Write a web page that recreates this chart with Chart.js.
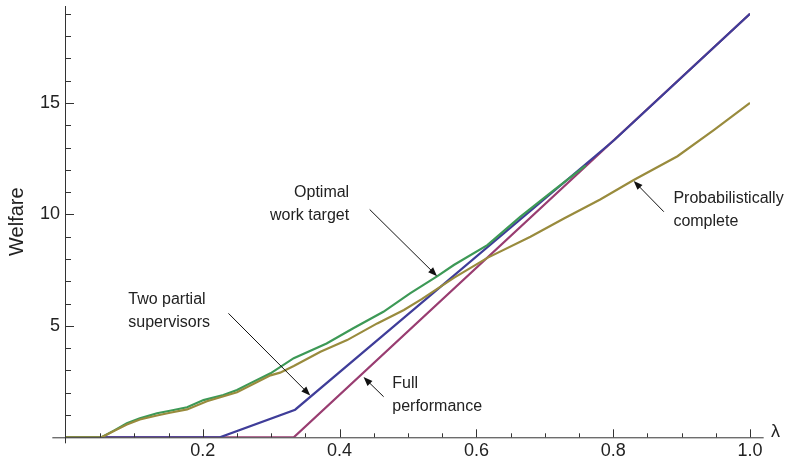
<!DOCTYPE html>
<html>
<head>
<meta charset="utf-8">
<script src="https://cdn.jsdelivr.net/npm/chart.js@4.4.0/dist/chart.umd.min.js"></script>
<style>
  body { margin: 0; background: #fff; }
  #wrap { width: 794px; height: 463px; position: relative; }
</style>
</head>
<body>
<div id="wrap"><canvas id="chartKu"></canvas></div>
<script>
// values (lambda on x, welfare on y)
const lambdaFull = [0, 0.333, 1.0]
const welfareFull = [0, 0, 19.0]

const lambdaTwo = [0, 0.225, 0.335, 0.802, 1.0]
const welfareTwo = [0, 0, 1.24, 13.35, 19.0]

// after ~0.72 this one runs under the blue line, so it stops there
const lambdaOpt = [0, 0.052, 0.07, 0.089, 0.108, 0.133, 0.152, 0.177, 0.201, 0.230, 0.250, 0.269, 0.299, 0.333, 0.381, 0.420, 0.464, 0.503, 0.543, 0.567, 0.616, 0.664, 0.712, 0.76]
const welfareOpt = [0, 0, 0.3, 0.63, 0.85, 1.08, 1.19, 1.35, 1.67, 1.90, 2.12, 2.42, 2.87, 3.55, 4.21, 4.89, 5.63, 6.46, 7.23, 7.73, 8.62, 9.89, 11.06, 12.2]

const lambdaProb = [0, 0.052, 0.07, 0.089, 0.108, 0.133, 0.152, 0.177, 0.206, 0.25, 0.299, 0.313, 0.333, 0.372, 0.411, 0.455, 0.494, 0.52, 0.567, 0.616, 0.679, 0.728, 0.781, 0.83, 0.894, 0.947, 1.0]
const welfareProb = [0, 0, 0.28, 0.57, 0.8, 0.98, 1.1, 1.25, 1.62, 2.02, 2.78, 2.9, 3.2, 3.84, 4.36, 5.11, 5.71, 6.2, 7.15, 8.05, 9.0, 9.82, 10.67, 11.54, 12.61, 13.78, 15.0]

const xTickValues = [0.2, 0.4, 0.6, 0.8, 1.0]
const yTickValues = [5, 10, 15]

// labels with arrows, in data units
const notes = [
  { lines: ['Optimal', 'work target'], at: [0.414, 10.96], align: 'right', from: [0.444, 10.22], to: [0.5425, 7.23] },
  { lines: ['Two partial', 'supervisors'], at: [0.091, 6.2], align: 'left', from: [0.2375, 5.56], to: [0.357, 1.88] },
  { lines: ['Full', 'performance'], at: [0.477, 2.43], align: 'left', from: [0.4644, 1.82], to: [0.435, 2.7] },
  { lines: ['Probabilistically', 'complete'], at: [0.888, 10.73], align: 'left', from: [0.874, 10.12], to: [0.830, 11.5] }
]

const pts = (xs, ys) => xs.map((x, i) => ({ x: x, y: ys[i] }))

const axisColor = '#333'
const textColor = '#222'

const axesPlugin = {
  id: 'axesPlugin',
  afterDraw(chart) {
    const c = chart.ctx
    const sx = chart.scales.x, sy = chart.scales.y
    const x0 = sx.getPixelForValue(0), y0 = sy.getPixelForValue(0)
    c.save()
    c.strokeStyle = axisColor
    c.lineWidth = 1
    c.beginPath()
    c.moveTo(sx.getPixelForValue(-0.02), y0 + 0.5)
    c.lineTo(sx.getPixelForValue(1.02), y0 + 0.5)
    c.moveTo(x0 - 0.5, sy.getPixelForValue(19.35))
    c.lineTo(x0 - 0.5, sy.getPixelForValue(-0.27))
    // x ticks every 0.05, long ones every 0.2
    for (let k = 1; k <= 20; k++) {
      const px = Math.round(sx.getPixelForValue(k * 0.05)) + 0.5
      const len = k % 4 === 0 ? 8 : 4
      c.moveTo(px, y0)
      c.lineTo(px, y0 - len)
    }
    // y ticks every 1, long ones every 5
    for (let v = 1; v <= 19; v++) {
      const py = Math.round(sy.getPixelForValue(v)) + 0.5
      const len = v % 5 === 0 ? 8 : 5
      c.moveTo(x0, py)
      c.lineTo(x0 + len, py)
    }
    c.stroke()

    c.fillStyle = textColor
    c.font = '18px "Liberation Sans", Arial, sans-serif'
    c.textAlign = 'left'
    c.textBaseline = 'middle'
    c.fillText('λ', sx.getPixelForValue(1.0) + 21, y0 - 5)

    // notes and arrows
    c.font = '16px "Liberation Sans", Arial, sans-serif'
    notes.forEach(n => {
      const tx = sx.getPixelForValue(n.at[0]), ty = sy.getPixelForValue(n.at[1])
      c.textAlign = n.align
      n.lines.forEach((s, i) => c.fillText(s, tx, ty + i * 23))
      const ax = sx.getPixelForValue(n.from[0]), ay = sy.getPixelForValue(n.from[1])
      const bx = sx.getPixelForValue(n.to[0]), by = sy.getPixelForValue(n.to[1])
      const ang = Math.atan2(by - ay, bx - ax)
      c.strokeStyle = '#111'
      c.lineWidth = 1
      c.beginPath()
      c.moveTo(ax, ay)
      c.lineTo(bx - 6 * Math.cos(ang), by - 6 * Math.sin(ang))
      c.stroke()
      c.fillStyle = '#111'
      c.beginPath()
      c.moveTo(bx, by)
      c.lineTo(bx - 9 * Math.cos(ang) + 3.5 * Math.sin(ang), by - 9 * Math.sin(ang) - 3.5 * Math.cos(ang))
      c.lineTo(bx - 9 * Math.cos(ang) - 3.5 * Math.sin(ang), by - 9 * Math.sin(ang) + 3.5 * Math.cos(ang))
      c.closePath()
      c.fill()
      c.fillStyle = textColor
    })
    c.restore()
  }
}

const ctx = document.getElementById('chartKu').getContext('2d')
const chart = new Chart(ctx, {
  type: 'line',
  data: {
    datasets: [
      { label: 'Probabilistically complete', data: pts(lambdaProb, welfareProb), borderColor: '#998b3d' },
      { label: 'Optimal work target', data: pts(lambdaOpt, welfareOpt), borderColor: '#3d9956' },
      { label: 'Two partial supervisors', data: pts(lambdaTwo, welfareTwo), borderColor: '#3f3d99' },
      { label: 'Full performance', data: pts(lambdaFull, welfareFull), borderColor: '#993d71' }
    ]
  },
  options: {
    responsive: true,
    maintainAspectRatio: false,
    animation: false,
    layout: { padding: { left: 0, top: 6, right: 44, bottom: 0 } },
    elements: {
      line: { borderWidth: 2.2, tension: 0, fill: false },
      point: { radius: 0, hoverRadius: 0 }
    },
    plugins: { legend: { display: false }, tooltip: { enabled: false } },
    scales: {
      x: {
        type: 'linear',
        min: 0,
        max: 1.0,
        grid: { display: false, drawTicks: false },
        border: { display: false },
        ticks: {
          padding: 3,
          color: textColor,
          font: { size: 18, family: '"Liberation Sans", Arial, sans-serif' },
          callback: v => v.toFixed(1)
        },
        afterBuildTicks: s => { s.ticks = xTickValues.map(v => ({ value: v })) },
        afterFit: s => { s.height = 25.7; s.paddingLeft = 0; s.paddingRight = 0 }
      },
      y: {
        min: 0,
        max: 19.35,
        grid: { display: false, drawTicks: false },
        border: { display: false },
        title: {
          display: true,
          text: 'Welfare',
          color: textColor,
          padding: { top: 5, bottom: 0 },
          font: { size: 20, family: '"Liberation Sans", Arial, sans-serif' }
        },
        ticks: {
          padding: 6,
          color: textColor,
          font: { size: 18, family: '"Liberation Sans", Arial, sans-serif' }
        },
        afterBuildTicks: s => { s.ticks = yTickValues.map(v => ({ value: v })) },
        afterFit: s => { s.width = 66; s.paddingTop = 0; s.paddingBottom = 0 }
      }
    }
  },
  plugins: [axesPlugin]
})
</script>
</body>
</html>
